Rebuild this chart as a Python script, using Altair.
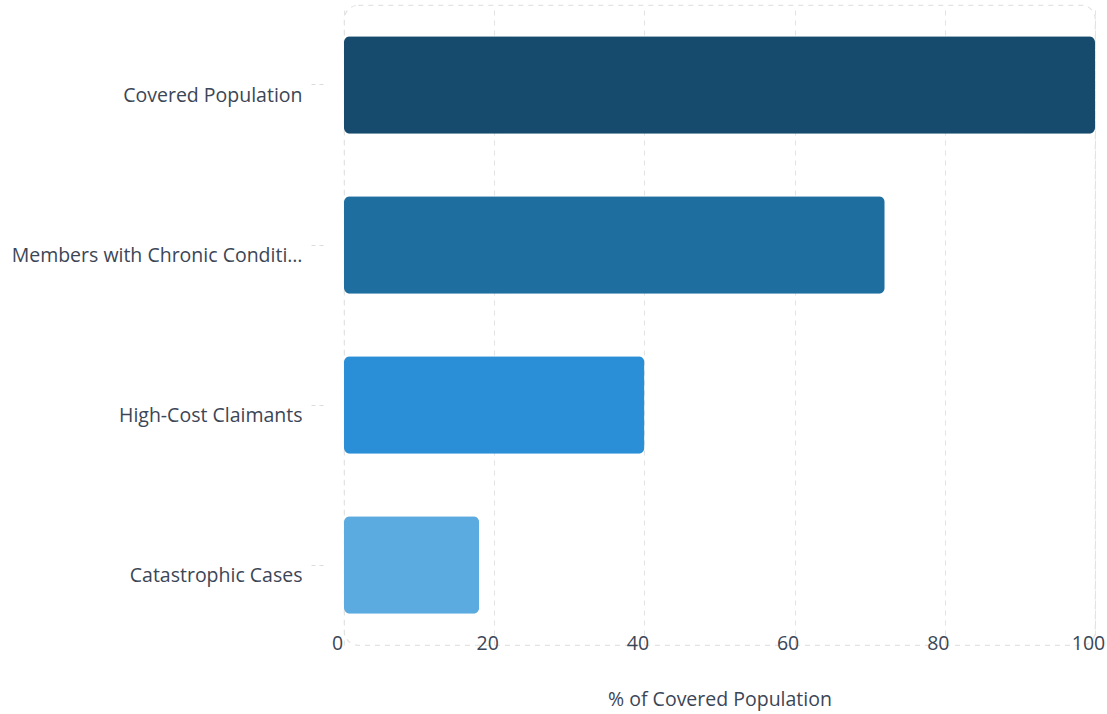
import altair as alt
import pandas as pd

categories = ["Covered Population", "Members with Chronic Conditions", "High-Cost Claimants", "Catastrophic Cases"]
values = [100, 72, 40, 18]
colors = ["#164B6E", "#1E6EA0", "#2A8FD6", "#5BAAE0"]

df = pd.DataFrame({"category": categories, "value": values})

text_color = "#3b4656"
font = "Open Sans"

chart = alt.Chart(df).mark_bar(cornerRadius=6).encode(
    y=alt.Y("category:N", sort=categories,
            scale=alt.Scale(paddingInner=0.39, paddingOuter=0.195),
            axis=alt.Axis(title=None, offset=21, tickSize=16, tickColor="#dcdcdc",
                          tickDash=[4, 4], tickWidth=1, domain=False, grid=False,
                          labelPadding=5, labelLimit=296, labelFontSize=19.5,
                          labelOffset=11,
                          labelColor=text_color, labelFont=font)),
    x=alt.X("value:Q", scale=alt.Scale(domain=[0, 100], nice=False),
            axis=alt.Axis(title="% of Covered Population", values=[0, 20, 40, 60, 80, 100],
                          ticks=False, domain=False, grid=True, gridColor="#e3e3e3",
                          gridDash=[5, 5], labelBaseline="middle", labelPadding=-2,
                          labelFlush=False, labelOffset=-7,
                          labelFontSize=19.5, labelColor=text_color, labelFont=font,
                          titleFontSize=19.5, titleFontWeight="normal", titleColor=text_color,
                          titleFont=font, titlePadding=38)),
    color=alt.Color("category:N", scale=alt.Scale(domain=categories, range=colors), legend=None),
).properties(
    width=751, height=640,
    autosize=alt.AutoSizeParams(type="none"),
    padding={"left": 344, "top": 5, "right": 12, "bottom": 69},
).configure_view(
    stroke="#e3e3e3", strokeDash=[5, 5], strokeWidth=1.2, cornerRadius=14
)

chart.save("out.html", embed_options={"renderer": "svg", "actions": False})
